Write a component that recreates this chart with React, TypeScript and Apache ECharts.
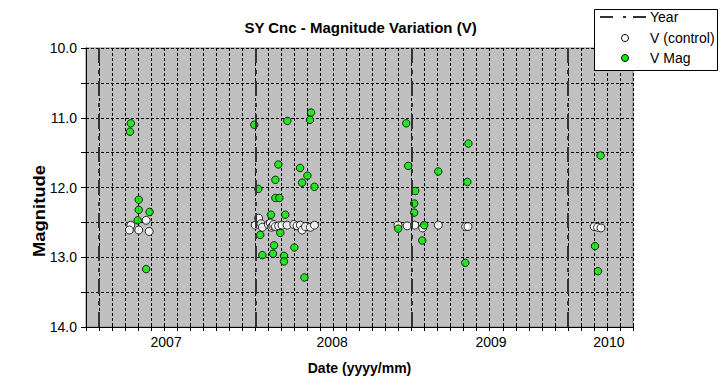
import React, { useEffect, useRef } from "react";
import * as echarts from "echarts";

// x values are months counted from January 2006 (5 = June 2006)
const yearLineMonths = [6, 18, 30, 42];
const yearLabels = ["2007", "2008", "2009", "2010"];
const yearLabelMonths = [11.15, 23.9, 36.1, 45.15];

const vMagMonths = [
  8.44, 8.38, 9.05, 9.05, 9.88, 8.97, 9.62,
  17.92, 18.23, 19.77, 22.28, 22.2, 20.46, 21.44, 22.0, 19.54, 21.59, 22.54, 19.54, 19.85,
  19.2, 20.3, 18.38, 19.92, 19.44, 21.0, 18.54, 19.36, 20.2, 20.2, 21.77,
  29.59, 34.36, 29.74, 32.05, 34.28, 30.28, 30.2, 30.2, 30.97, 28.97, 30.82, 34.12,
  44.51, 44.08, 44.31,
];
const vMagValues = [
  11.08, 11.2, 12.175, 12.32, 12.35, 12.47, 13.17,
  11.1, 12.02, 11.67, 10.925, 11.03, 11.045, 11.72, 11.83, 11.89, 11.93, 11.99, 12.15, 12.15,
  12.39, 12.39, 12.68, 12.65, 12.83, 12.86, 12.97, 12.95, 12.98, 13.06, 13.29,
  11.08, 11.37, 11.69, 11.77, 11.92, 12.05, 12.23, 12.36, 12.54, 12.59, 12.76, 13.08,
  11.54, 12.84, 13.2,
];

const controlMonths = [
  8.44, 8.33, 9.05, 9.62, 9.85,
  18.25, 18.0, 18.44, 18.54, 19.0, 19.15, 19.25, 19.33, 19.4, 19.54, 19.79, 20.05, 20.44,
  20.95, 21.2, 21.46, 21.59, 21.85, 22.23, 22.54,
  28.95, 29.66, 30.24, 30.85, 32.05, 34.15, 34.33,
  44.02, 44.28, 44.54,
];
const controlValues = [
  12.54, 12.61, 12.61, 12.47, 12.63,
  12.44, 12.54, 12.52, 12.57, 12.53, 12.51, 12.57, 12.55, 12.53, 12.56, 12.55, 12.54, 12.54,
  12.53, 12.55, 12.54, 12.61, 12.56, 12.57, 12.54,
  12.54, 12.55, 12.54, 12.58, 12.54, 12.56, 12.56,
  12.56, 12.57, 12.58,
];

const FONT = '"Liberation Sans", Arial, sans-serif';
const monthTicks: number[] = [];
for (let m = 5; m <= 47; m++) monthTicks.push(m);

export default function App() {
  const ref = useRef<HTMLDivElement>(null);
  useEffect(() => {
    if (!ref.current) return;
    const chart = echarts.init(ref.current, null, { renderer: "svg" });
    const yearDash = [15, 7, 4, 7];
    const LZ = 100;
    chart.setOption({
      animation: false,
      backgroundColor: "#ffffff",
      title: {
        text: "SY Cnc - Magnitude Variation (V)",
        left: "center",
        top: 15,
        textStyle: { fontFamily: FONT, fontSize: 15, fontWeight: "bold", color: "#000" },
      },
      grid: {
        left: 86,
        right: 88,
        top: 48,
        bottom: 56,
        show: true,
        backgroundColor: "#c0c0c0",
        borderColor: "#808080",
        borderWidth: 1,
      },
      xAxis: [
        {
          type: "value",
          min: 5,
          max: 47,
          interval: 1,
          name: "Date (yyyy/mm)",
          nameLocation: "middle",
          nameGap: 34,
          nameTextStyle: { fontFamily: FONT, fontSize: 14, fontWeight: "bold", color: "#000" },
          axisLine: { show: true, onZero: false, lineStyle: { color: "#000", width: 1 } },
          axisTick: { show: true, inside: false, length: 4, customValues: monthTicks, lineStyle: { color: "#000" } },
          axisLabel: {
            show: true,
            margin: 8,
            customValues: yearLabelMonths,
            fontFamily: FONT,
            fontSize: 14,
            color: "#000",
            formatter: (v: number) => {
              let best = 0;
              for (let i = 0; i < yearLabelMonths.length; i++) {
                if (Math.abs(yearLabelMonths[i] - v) < Math.abs(yearLabelMonths[best] - v)) best = i;
              }
              return yearLabels[best];
            },
          },
          splitLine: { show: true, lineStyle: { color: "#000", width: 1, type: [3, 2] } },
        },
        {
          type: "value",
          min: 5,
          max: 47,
          interval: 1,
          position: "bottom",
          axisLine: { show: false, onZero: false },
          axisTick: { show: true, inside: true, length: 4, lineStyle: { color: "#000" } },
          axisLabel: { show: false },
          splitLine: { show: false },
        },
      ],
      yAxis: {
        type: "value",
        inverse: true,
        min: 10,
        max: 14,
        interval: 0.5,
        axisLine: { show: true, onZero: false, lineStyle: { color: "#000", width: 1 } },
        axisTick: { show: true, inside: false, length: 5, lineStyle: { color: "#000" } },
        axisLabel: {
          margin: 9,
          fontFamily: FONT,
          fontSize: 14,
          color: "#000",
          formatter: (v: number) => (Math.abs(v - Math.round(v)) < 1e-6 ? v.toFixed(1) : ""),
        },
        splitLine: { show: true, lineStyle: { color: "#000", width: 1, type: [3, 2] } },
      },
      graphic: [
        {
          type: "text",
          x: 39,
          y: 211,
          rotation: Math.PI / 2,
          scaleX: 1.15,
          style: {
            text: "Magnitude",
            fontFamily: FONT,
            fontSize: 16,
            fontWeight: "bold",
            fill: "#000",
            textAlign: "center",
            textVerticalAlign: "middle",
          },
        },
        {
          type: "rect",
          z: LZ,
          shape: { x: 594.5, y: 9.5, width: 123, height: 61 },
          style: { fill: "#fff", stroke: "#000", lineWidth: 1 },
        },
        {
          type: "line",
          z: LZ + 1,
          shape: { x1: 600, y1: 17, x2: 647, y2: 17 },
          style: { stroke: "#333", lineWidth: 2, lineDash: [13, 10, 3, 7] },
        },
        {
          type: "text",
          z: LZ + 1,
          x: 650,
          y: 17,
          style: { text: "Year", fontFamily: FONT, fontSize: 14, fill: "#000", textVerticalAlign: "middle" },
        },
        {
          type: "circle",
          z: LZ + 1,
          shape: { cx: 625, cy: 38, r: 3.5 },
          style: { fill: "#fff", stroke: "#000", lineWidth: 1 },
        },
        {
          type: "text",
          z: LZ + 1,
          x: 650,
          y: 38,
          style: { text: "V (control)", fontFamily: FONT, fontSize: 14, fill: "#000", textVerticalAlign: "middle" },
        },
        {
          type: "circle",
          z: LZ + 1,
          shape: { cx: 625, cy: 58, r: 3.5 },
          style: { fill: "#00ee00", stroke: "#000", lineWidth: 1 },
        },
        {
          type: "text",
          z: LZ + 1,
          x: 650,
          y: 58,
          style: { text: "V Mag", fontFamily: FONT, fontSize: 14, fill: "#000", textVerticalAlign: "middle" },
        },
      ],
      series: [
        {
          name: "Year",
          type: "line",
          data: [],
          silent: true,
          z: 1,
          markLine: {
            silent: true,
            symbol: ["none", "none"],
            label: { show: false },
            lineStyle: { color: "#333", width: 2, type: yearDash },
            data: yearLineMonths.map((m) => ({ xAxis: m })),
          },
        },
        {
          name: "V (control)",
          type: "scatter",
          z: 3,
          symbol: "circle",
          symbolSize: 8,
          itemStyle: { color: "#ffffff", borderColor: "#000", borderWidth: 1 },
          data: controlMonths.map((m, i) => [m, controlValues[i]]),
        },
        {
          name: "V Mag",
          type: "scatter",
          z: 4,
          symbol: "circle",
          symbolSize: 7.5,
          itemStyle: { color: "#00ee00", borderColor: "#000", borderWidth: 1 },
          data: vMagMonths.map((m, i) => [m, vMagValues[i]]),
        },
      ],
    });
    return () => chart.dispose();
  }, []);
  return (
    <div
      ref={ref}
      style={{ position: "fixed", left: 0, top: 0, width: 721, height: 383 }}
    />
  );
}
